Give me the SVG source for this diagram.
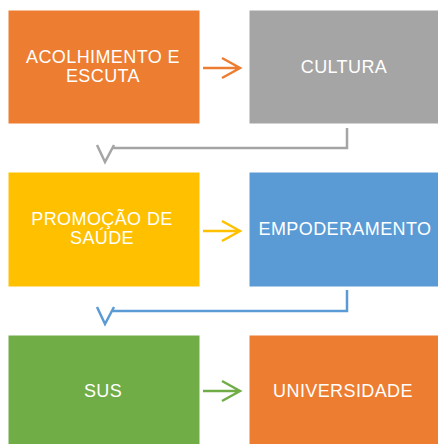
<svg xmlns="http://www.w3.org/2000/svg" width="438" height="444" viewBox="0 0 438 444">
<style>
.box{stroke:#ffffff;stroke-width:1}
.t{font-family:"Liberation Sans",Arial,sans-serif;font-size:18px;fill:#ffffff;text-anchor:middle;letter-spacing:0.4px}
.c{fill:none;stroke-width:2.5;stroke-linejoin:miter}
</style>
<rect width="438" height="444" fill="#ffffff"/>
<g id="connectors">
<path class="c" stroke="#ED7D31" d="M203 68H240M222 58L240 68L222 78"/>
<path class="c" stroke="#FFC000" d="M203 231H240M222 221L240 231L222 241"/>
<path class="c" stroke="#70AD47" d="M203 391H240M222 381L240 391L222 401"/>
<path class="c" stroke="#A5A5A5" d="M347 128V148H112M97 145L105 162L114 145"/>
<path class="c" stroke="#5B9BD5" d="M347 290V311H112M97 307L105 324L114 307"/>
</g>
<g id="acolhimento">
<rect class="box" x="8" y="10" width="192" height="114" fill="#ED7D31"/>
<text class="t" x="103" y="63">ACOLHIMENTO E</text>
<text class="t" x="103" y="82">ESCUTA</text>
</g>
<g id="cultura">
<rect class="box" x="249" y="10" width="190" height="114" fill="#A5A5A5"/>
<text class="t" x="344" y="73">CULTURA</text>
</g>
<g id="promocao">
<rect class="box" x="8" y="172" width="192" height="115" fill="#FFC000"/>
<text class="t" x="102" y="225">PROMOÇÃO DE</text>
<text class="t" x="102" y="244">SAÚDE</text>
</g>
<g id="empoderamento">
<rect class="box" x="249" y="172" width="190" height="115" fill="#5B9BD5"/>
<text class="t" x="345" y="235">EMPODERAMENTO</text>
</g>
<g id="sus">
<rect class="box" x="8" y="335" width="192" height="112" fill="#70AD47"/>
<text class="t" x="103" y="397">SUS</text>
</g>
<g id="universidade">
<rect class="box" x="249" y="335" width="190" height="112" fill="#ED7D31"/>
<text class="t" x="343" y="397">UNIVERSIDADE</text>
</g>
</svg>
